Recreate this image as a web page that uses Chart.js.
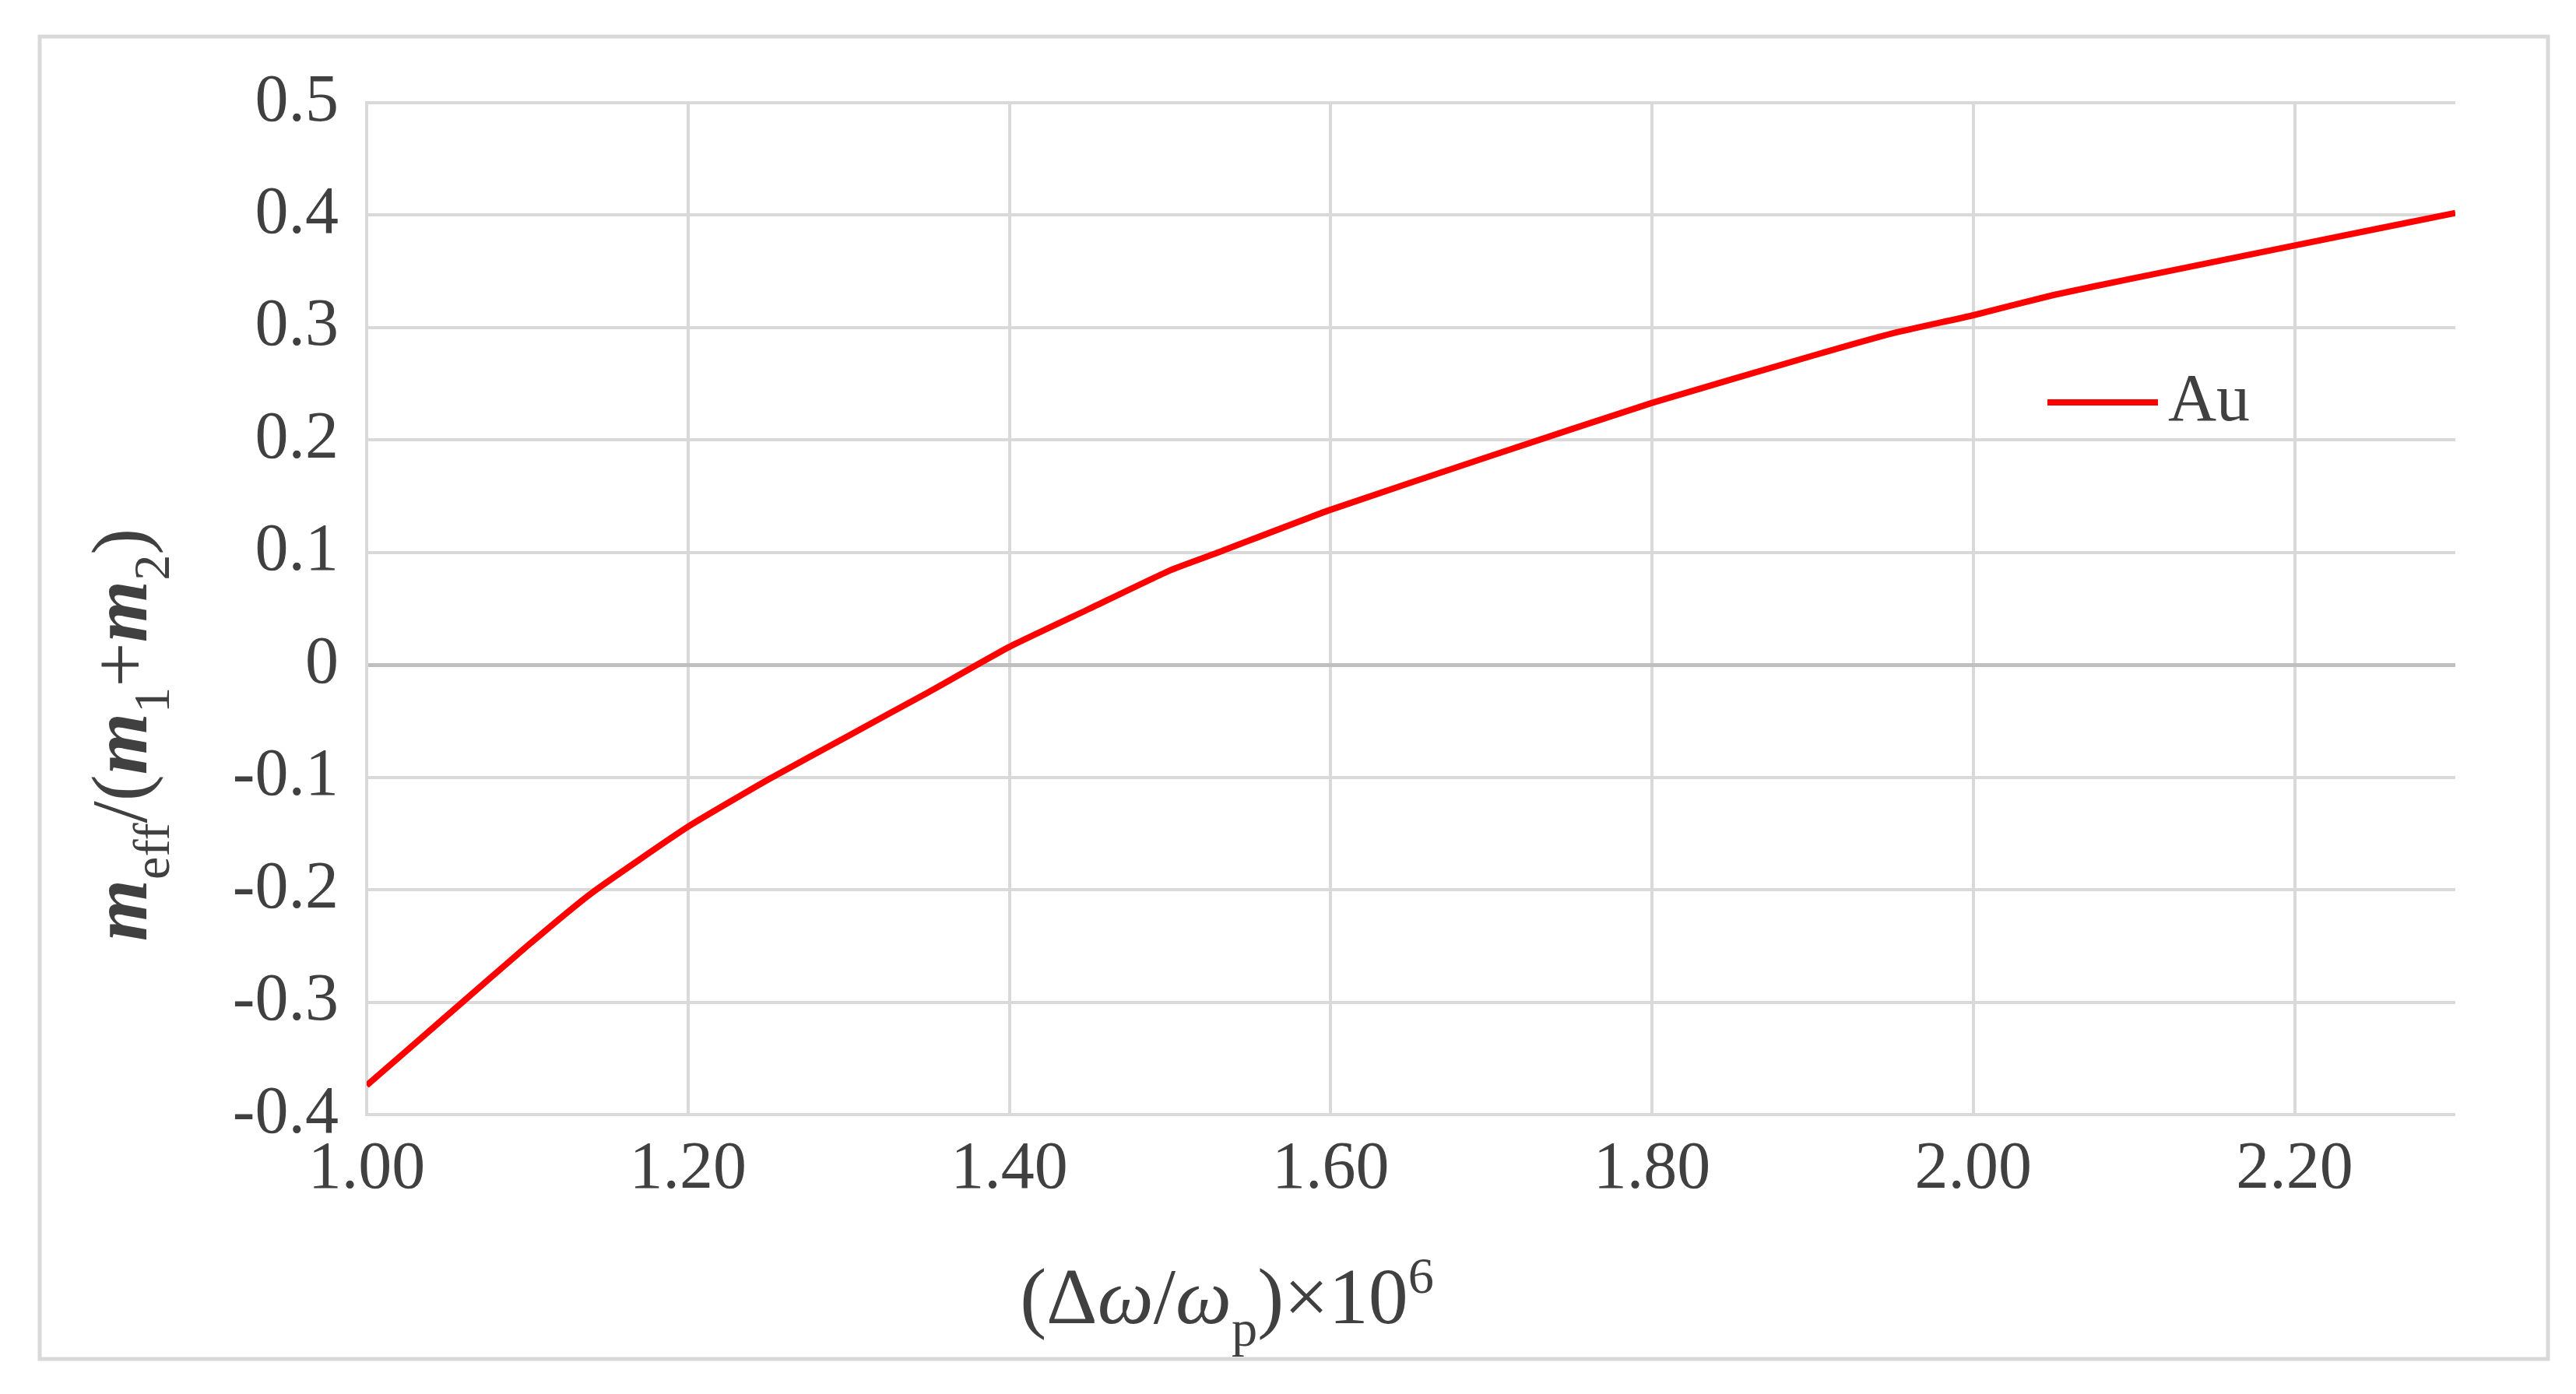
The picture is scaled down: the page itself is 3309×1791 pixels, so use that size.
<!DOCTYPE html>
<html><head><meta charset="utf-8">
<script src="https://cdn.jsdelivr.net/npm/chart.js@4.4.0/dist/chart.umd.min.js"></script>
<style>html,body{margin:0;padding:0;background:#fff;}#wrap{width:3309px;height:1791px;}</style>
</head><body><div id="wrap"><canvas id="c"></canvas></div>
<script>
const xValues = [1.00, 1.05, 1.10, 1.14, 1.20, 1.25, 1.30, 1.35, 1.40, 1.45, 1.50, 1.53, 1.60, 1.70, 1.80, 1.90, 1.95, 2.00, 2.05, 2.10, 2.20, 2.30];
const auValues = [-0.374, -0.312, -0.250, -0.203, -0.144, -0.102, -0.063, -0.024, 0.016, 0.050, 0.084, 0.100, 0.138, 0.186, 0.233, 0.275, 0.295, 0.311, 0.329, 0.344, 0.373, 0.402];
const xTickLabels = ["1.00","1.20","1.40","1.60","1.80","2.00","2.20"];
const yTickLabels = ["-0.4","-0.3","-0.2","-0.1","0","0.1","0.2","0.3","0.4","0.5"];
const seriesName = "Au";

const FONT = "'Liberation Serif', 'Times New Roman', serif";
const pts = xValues.map((x,i)=>({x:x,y:auValues[i]}));

function drawRich(ctx, parts, size){
  let w=0; const m=[];
  for(const [t,s] of parts){
    let f=size, st='';
    if(s==='sub'||s==='sup') f=size*0.65;
    if(s==='i') st='italic ';
    if(s==='bi') st='italic bold ';
    ctx.font = st + f + 'px ' + FONT;
    const tw = ctx.measureText(t).width;
    m.push({t,s,font:ctx.font,w:tw}); w+=tw;
  }
  let x=-w/2;
  for(const p of m){
    ctx.font=p.font;
    let dy=0;
    if(p.s==='sub') dy=size*0.28;
    if(p.s==='sup') dy=-size*0.38;
    ctx.fillText(p.t,x,dy); x+=p.w;
  }
}

const decor = {
  id:'decor',
  beforeDraw(chart){
    const ctx=chart.ctx;
    ctx.save();
    ctx.fillStyle='#fff'; ctx.fillRect(0,0,chart.width,chart.height);
    ctx.strokeStyle='#d9d9d9'; ctx.lineWidth=5;
    ctx.strokeRect(51,47,3222,1699);
    ctx.restore();
  },
  afterDraw(chart){
    const ctx=chart.ctx;
    ctx.save();
    ctx.fillStyle='#404040'; ctx.textBaseline='alphabetic';
    ctx.translate(1576,1700);
    drawRich(ctx,[["(Δ","n"],["ω","i"],["/","n"],["ω","i"],["p","sub"],[")×10","n"],["6","sup"]],102);
    ctx.restore();
    ctx.save();
    ctx.fillStyle='#404040';
    ctx.translate(188,944); ctx.rotate(-Math.PI/2);
    drawRich(ctx,[["m","bi"],["eff","sub"],["/(","n"],["m","bi"],["1","sub"],["+","n"],["m","bi"],["2","sub"],[")","n"]],102);
    ctx.restore();
    const ds=chart.data.datasets[0];
    ctx.save();
    ctx.strokeStyle=ds.borderColor; ctx.lineWidth=8;
    ctx.beginPath(); ctx.moveTo(2630,517); ctx.lineTo(2772,517); ctx.stroke();
    ctx.fillStyle='#404040'; ctx.font='86px '+FONT; ctx.textBaseline='middle';
    ctx.fillText(ds.label,2785,517);
    ctx.restore();
  }
};

new Chart(document.getElementById('c'),{
  type:'scatter',
  data:{datasets:[{label:seriesName,data:pts,showLine:true,borderColor:'#ff0000',borderWidth:8,pointRadius:0,tension:0.15,fill:false}]},
  options:{
    responsive:true,maintainAspectRatio:false,animation:false,devicePixelRatio:1,
    layout:{padding:{top:132,right:155,left:0,bottom:0}},
    plugins:{legend:{display:false},tooltip:{enabled:false}},
    scales:{
      x:{type:'linear',min:1.0,max:2.3,
        afterFit(s){s.height=359;},
        afterBuildTicks(s){s.ticks=xTickLabels.map(v=>({value:parseFloat(v)}));},
        grid:{color:'#d9d9d9',lineWidth:4,drawTicks:false},
        border:{display:false},
        ticks:{padding:20,color:'#404040',font:{family:FONT,size:86},maxRotation:0,autoSkip:false,callback:(v)=>v.toFixed(2)}},
      y:{type:'linear',min:-0.4,max:0.5,
        afterFit(s){s.width=471;},
        afterBuildTicks(s){s.ticks=yTickLabels.map(v=>({value:parseFloat(v)}));},
        grid:{color:(c)=>c.tick&&Math.abs(c.tick.value)<1e-9?'#bfbfbf':'#d9d9d9',lineWidth:(c)=>c.tick&&Math.abs(c.tick.value)<1e-9?5:4,drawTicks:false},
        border:{display:true,color:'#d9d9d9',width:4},
        ticks:{padding:36,color:'#404040',font:{family:FONT,size:86},autoSkip:false,
          callback:(v)=>{const i=yTickLabels.findIndex(l=>Math.abs(parseFloat(l)-v)<1e-9);return i>=0?yTickLabels[i]:'';}}}
    }
  },
  plugins:[decor]
});
</script></body></html>
